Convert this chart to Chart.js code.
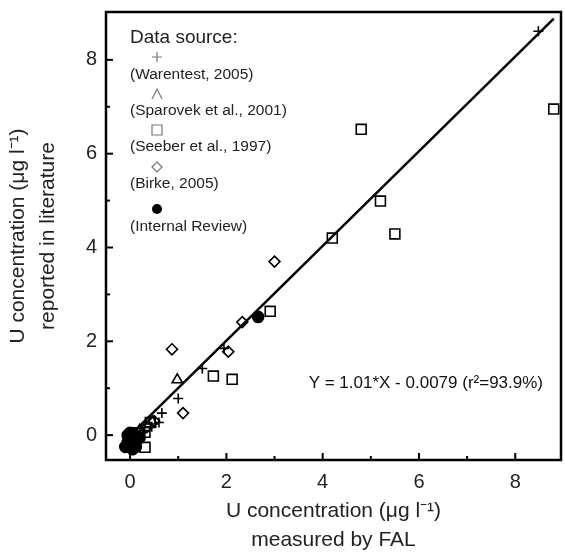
<!DOCTYPE html>
<html>
<head>
<meta charset="utf-8">
<script src="https://cdn.jsdelivr.net/npm/chart.js@4/dist/chart.umd.min.js"></script>
<style>
  html, body { margin: 0; padding: 0; background: #fff; }
  #wrap { width: 565px; height: 556px; position: relative; }
</style>
</head>
<body>
<div id="wrap"><canvas id="chart"></canvas></div>
<script>
// data: [FAL measured, literature value]
const warentest = [[8.48, 8.61], [1.0, 0.78], [1.5, 1.42], [1.95, 1.85], [0.66, 0.47], [0.6, 0.27], [0.45, 0.18], [0.3, 0.1], [0.15, 0.0], [0.05, -0.05]];
const sparovek = [[0.98, 1.18], [0.45, 0.3], [0.2, 0.1], [0.1, 0.0]];
const seeber = [[8.8, 6.95], [4.8, 6.52], [5.2, 4.99], [5.5, 4.29], [4.2, 4.2], [2.91, 2.64], [1.73, 1.26], [2.12, 1.19], [0.42, 0.27], [0.31, 0.06], [0.31, -0.26], [0.15, 0.05], [0.05, -0.1]];
const birke = [[3.0, 3.7], [2.33, 2.41], [2.04, 1.78], [0.87, 1.83], [1.1, 0.47], [0.35, 0.17], [0.5, 0.3], [0.2, 0.05], [0.1, -0.05]];
const internalReview = [[2.66, 2.52], [0.0, -0.1], [0.05, -0.2], [-0.05, -0.15], [0.1, 0.0], [0.0, 0.05], [0.15, -0.1], [-0.1, -0.25], [0.05, -0.3], [0.12, -0.25], [0.2, -0.05], [-0.05, 0.0], [0.1, -0.15]];

// regression shown in the figure
const fitSlope = 1.01;
const fitIntercept = -0.0079;
const fitRange = [-0.2, 8.8];

const xTickLabels = [0, 2, 4, 6, 8];
const yTickLabels = [0, 2, 4, 6, 8];

const legendEntries = [
    { style: 'cross', label: '(Warentest, 2005)' },
    { style: 'triangle', label: '(Sparovek et al., 2001)' },
    { style: 'rect', label: '(Seeber et al., 1997)' },
    { style: 'rectRot', label: '(Birke, 2005)' },
    { style: 'circle', label: '(Internal Review)' }
];
// vertical offsets (from top of plot) for legend marker / label rows
const legendMarkerY = [45, 82, 118, 155, 197];
const legendLabelY = [63, 99, 135, 172, 215];

const FONT = '"Liberation Sans", Arial, sans-serif';
const RIGHT_GAP = 4;   // space between plot frame and canvas edge
const toXY = arr => arr.map(p => ({ x: p[0], y: p[1] }));

function scatterSet(label, data, style, radius, filled) {
    return {
        type: 'scatter',
        label: label,
        data: toXY(data),
        pointStyle: style,
        pointRadius: radius,
        pointHoverRadius: radius,
        borderColor: '#000',
        backgroundColor: filled ? '#000' : 'rgba(0,0,0,0)',
        borderWidth: 1.6
    };
}

// legend, equation, frame and inward ticks
const decorPlugin = {
    id: 'decor',
    afterLayout(chart) {
        // stretch the plot to the right edge like the original
        const xs = chart.scales.x;
        const right = chart.width - RIGHT_GAP;
        xs.right = right;
        xs.width = right - xs.left;
        xs.configure();
        chart.chartArea.right = right;
        chart.chartArea.width = right - chart.chartArea.left;
    },
    afterDraw(chart) {
        const ctx = chart.ctx;
        const area = chart.chartArea;
        const xs = chart.scales.x, ys = chart.scales.y;
        ctx.save();

        // frame
        ctx.strokeStyle = '#000';
        ctx.lineWidth = 2.5;
        ctx.strokeRect(area.left, area.top, area.right - area.left, area.bottom - area.top);

        // inward ticks
        ctx.lineWidth = 2;
        for (let v = 0; v <= 8; v++) {
            const len = v % 2 === 0 ? 7 : 4;
            const px = xs.getPixelForValue(v);
            ctx.beginPath();
            ctx.moveTo(px, area.bottom);
            ctx.lineTo(px, area.bottom - len);
            ctx.stroke();
            const py = ys.getPixelForValue(v);
            ctx.beginPath();
            ctx.moveTo(area.left, py);
            ctx.lineTo(area.left + len, py);
            ctx.stroke();
        }

        // legend
        const lx = area.left + 24;
        ctx.fillStyle = '#222';
        ctx.textBaseline = 'middle';
        ctx.textAlign = 'left';
        ctx.font = '19px ' + FONT;
        ctx.fillText('Data source:', lx, area.top + 26);
        ctx.font = '15.5px ' + FONT;
        legendEntries.forEach((e, i) => {
            const my = area.top + legendMarkerY[i];
            const mx = lx + 27;
            ctx.strokeStyle = e.style === 'circle' ? '#000' : '#777';
            ctx.fillStyle = '#000';
            ctx.lineWidth = 1.2;
            ctx.beginPath();
            if (e.style === 'cross') {
                ctx.moveTo(mx - 5, my); ctx.lineTo(mx + 5, my);
                ctx.moveTo(mx, my - 5); ctx.lineTo(mx, my + 5);
                ctx.stroke();
            } else if (e.style === 'triangle') {
                ctx.moveTo(mx - 5, my + 5); ctx.lineTo(mx, my - 5); ctx.lineTo(mx + 5, my + 5);
                ctx.stroke();
            } else if (e.style === 'rect') {
                ctx.rect(mx - 5, my - 5, 10, 10);
                ctx.stroke();
            } else if (e.style === 'rectRot') {
                ctx.moveTo(mx, my - 5); ctx.lineTo(mx + 5, my); ctx.lineTo(mx, my + 5); ctx.lineTo(mx - 5, my); ctx.closePath();
                ctx.stroke();
            } else {
                ctx.arc(mx, my, 5, 0, Math.PI * 2);
                ctx.fill();
            }
            ctx.fillStyle = '#222';
            ctx.fillText(e.label, lx, area.top + legendLabelY[i]);
        });

        // regression equation
        ctx.font = '17px ' + FONT;
        ctx.textAlign = 'right';
        ctx.fillStyle = '#111';
        ctx.fillText('Y = 1.01*X - 0.0079 (r\u00b2=93.9%)', area.right - 18, ys.getPixelForValue(1.1));
        ctx.restore();
    }
};

const fitLine = fitRange.map(x => ({ x: x, y: fitSlope * x + fitIntercept }));

new Chart(document.getElementById('chart'), {
    data: {
        datasets: [
            {
                type: 'line',
                label: 'fit',
                data: fitLine,
                borderColor: '#000',
                borderWidth: 2.5,
                pointRadius: 0,
                fill: false
            },
            scatterSet('Warentest, 2005', warentest, 'cross', 5, false),
            scatterSet('Sparovek et al., 2001', sparovek, 'triangle', 6, false),
            scatterSet('Seeber et al., 1997', seeber, 'rect', 7, false),
            scatterSet('Birke, 2005', birke, 'rectRot', 5.5, false),
            scatterSet('Internal Review', internalReview, 'circle', 5.5, true)
        ]
    },
    options: {
        responsive: true,
        maintainAspectRatio: false,
        animation: false,
        layout: { padding: { top: 12, right: 0, left: 0, bottom: 0 } },
        plugins: {
            legend: { display: false },
            tooltip: { enabled: false }
        },
        scales: {
            x: {
                type: 'linear',
                min: -0.5,
                max: 8.95,
                grid: { display: false, drawTicks: false },
                border: { display: false },
                ticks: {
                    stepSize: 1,
                    autoSkip: false,
                    includeBounds: false,
                    maxRotation: 0,
                    padding: 10,
                    color: '#222',
                    font: { family: FONT, size: 20 },
                    callback: v => xTickLabels.includes(v) ? String(v) : ''
                },
                title: {
                    display: true,
                    text: ['U concentration (\u03bcg l\u207b\u00b9)', 'measured by FAL'],
                    color: '#222',
                    font: { family: FONT, size: 21, lineHeight: 1.35 },
                    padding: { top: 4, bottom: 2 }
                },
                afterFit(scale) {
                    scale.height = 96;
                    scale.paddingLeft = 0;
                    scale.paddingRight = 0;
                }
            },
            y: {
                type: 'linear',
                min: -0.53,
                max: 9.02,
                grid: { display: false, drawTicks: false },
                border: { display: false },
                ticks: {
                    stepSize: 1,
                    autoSkip: false,
                    includeBounds: false,
                    padding: 9,
                    color: '#222',
                    font: { family: FONT, size: 20 },
                    callback: v => yTickLabels.includes(v) ? String(v) : ''
                },
                title: {
                    display: true,
                    text: ['U concentration (\u03bcg l\u207b\u00b9)', 'reported in literature'],
                    color: '#222',
                    font: { family: FONT, size: 21, lineHeight: 1.4 },
                    padding: { top: 4, bottom: 4 }
                },
                afterFit(scale) {
                    scale.width = 106;
                    scale.paddingTop = 0;
                    scale.paddingBottom = 0;
                }
            }
        }
    },
    plugins: [decorPlugin]
});
</script>
</body>
</html>
